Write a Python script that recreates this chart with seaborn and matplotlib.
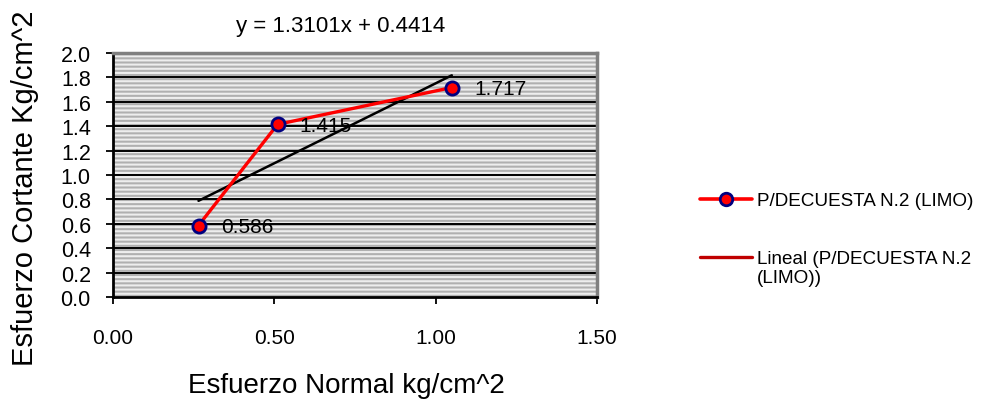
import matplotlib
matplotlib.use("Agg")
import matplotlib.pyplot as plt
import seaborn as sns
import numpy as np
import pandas as pd
from matplotlib.patches import Rectangle
from matplotlib.lines import Line2D

# data
esfuerzo_normal = [0.265, 0.51, 1.05]
esfuerzo_cortante = [0.586, 1.415, 1.717]
point_labels = ["0.586", "1.415", "1.717"]
slope = 1.3101
intercept = 0.4414
title_text = "y = 1.3101x + 0.4414"
series_name = "P/DECUESTA N.2 (LIMO)"
trend_name = "Lineal (P/DECUESTA N.2\n(LIMO))"
x_ticks = [0.0, 0.5, 1.0, 1.5]
y_ticks = [0.0, 0.2, 0.4, 0.6, 0.8, 1.0, 1.2, 1.4, 1.6, 1.8, 2.0]

sns.set_style("white")
plt.rcParams['font.family'] = ['Liberation Sans', 'DejaVu Sans']
plt.rcParams['hatch.linewidth'] = 1.5
for k in ['text.color', 'axes.labelcolor', 'xtick.color', 'ytick.color']:
    plt.rcParams[k] = 'black'

df = pd.DataFrame({"x": esfuerzo_normal, "y": esfuerzo_cortante})
trend_x = [min(esfuerzo_normal), max(esfuerzo_normal)]
trend = pd.DataFrame({"x": trend_x, "y": [slope * v + intercept for v in trend_x]})

fig = plt.figure(figsize=(9.86, 4.06), dpi=100)
ax = fig.add_axes([113/986, 108/406, 484/986, 244/406])
ax.set_xlim(0, 1.5)
ax.set_ylim(0, 2.0)

# striped background
ax.add_patch(Rectangle((0, 0), 1, 1, transform=ax.transAxes, facecolor='#b0b0b0',
                       edgecolor='#eeeeee', hatch='----', linewidth=0, zorder=0))
for yv in y_ticks[1:]:
    ax.axhline(yv, color='black', linewidth=1.4, zorder=1)

sns.lineplot(data=trend, x="x", y="y", ax=ax, color='black', linewidth=1.8, zorder=2)
sns.lineplot(data=df, x="x", y="y", ax=ax, color='#ff0000', linewidth=2.4, zorder=3,
             marker='o', markersize=9.5, markerfacecolor='#ff0000',
             markeredgecolor='#000080', markeredgewidth=2)

for xv, yv, lab in zip(esfuerzo_normal, esfuerzo_cortante, point_labels):
    ax.annotate(lab, (xv, yv), xytext=(16, -1), textcoords='offset points',
                va='center', ha='left', fontsize=15, color='#000000', zorder=4)

ax.set_xticks(x_ticks)
ax.set_xticklabels([f"{v:.2f}" for v in x_ticks])
ax.set_yticks(y_ticks)
ax.set_yticklabels([f"{v:.1f}" for v in y_ticks])
ax.tick_params(axis='both', direction='out', length=5, width=1.3,
               color='black', left=True, bottom=True)
ax.tick_params(axis='x', pad=17, labelsize=15)
ax.tick_params(axis='y', pad=11, labelsize=15.5)

for side in ['left', 'bottom']:
    ax.spines[side].set_color('black')
    ax.spines[side].set_linewidth(2)
for side in ['right', 'top']:
    ax.spines[side].set_color('#808080')
    ax.spines[side].set_linewidth(2.5)

ax.set_xlabel("Esfuerzo Normal kg/cm^2", fontsize=20)
ax.xaxis.set_label_coords((346-113)/484, (298-386)/244)
ax.xaxis.label.set_va('center')
ax.set_ylabel("Esfuerzo Cortante Kg/cm^2", fontsize=21)
ax.yaxis.set_label_coords((25-113)/484, (298-188)/244)
ax.yaxis.label.set_va('center')
ax.text((341-113)/484, (298-27)/244, title_text, transform=ax.transAxes,
        ha='center', va='center', fontsize=16)

handles = [
    Line2D([], [], color='#ff0000', linewidth=2.6, marker='o', markersize=9,
           markerfacecolor='#ff0000', markeredgecolor='#000080', markeredgewidth=2),
    Line2D([], [], color='#c00000', linewidth=2.4),
]
leg = fig.legend(handles, [series_name, trend_name], loc='upper left',
                 bbox_to_anchor=(683/986, 1 - 176/406), frameon=False, fontsize=13.6,
                 handlelength=2.75, labelspacing=2.15, handletextpad=0.26)
# align the trend handle with the first line of its two-line label
h2 = leg.legend_handles[1]
h2.set_ydata(np.asarray(h2.get_ydata(), dtype=float) + 8.0)

fig.savefig("out.png", dpi=100)
